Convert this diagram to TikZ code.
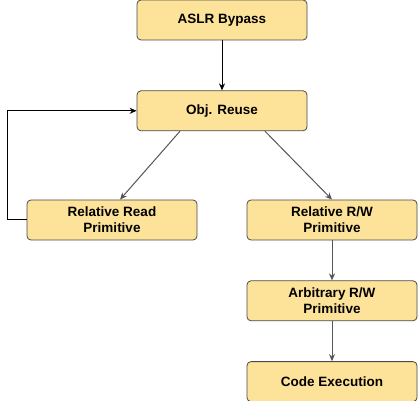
\documentclass[tikz,border=0pt]{standalone}
\usepackage{fontspec}
\setmainfont{Liberation Sans}
\usepackage{xcolor}
\usepackage{tikz}
\usetikzlibrary{positioning}
\usetikzlibrary{shapes.geometric, arrows.meta}
\definecolor{boxfill}{HTML}{FDE399}
\definecolor{boxline}{HTML}{4A4A4A}
\definecolor{edgegray}{HTML}{555555}
\tikzstyle{arrow} = [line width=1pt,-{Stealth[length=7pt,width=6pt]}]
\tikzstyle{stage} = [draw=boxline,line width=0.8pt,fill=boxfill,rounded corners=4pt,minimum width=170pt,minimum height=40pt,align=center,font=\fontsize{13.5}{16}\selectfont\bfseries,inner sep=0pt]

\begin{document}
\begin{tikzpicture}[x=1pt,y=-1pt]
	\useasboundingbox (0,0) rectangle (418,401);

	%Nodes
	\node (rect) [stage] at (222,20) (aslr) {ASLR Bypass};
	\node (rect) [stage, below=50pt of aslr] (reuse) {Obj. Reuse};
	\node (rect) [stage] at (112,220) (relread) {Relative Read\\Primitive};
	\node (rect) [stage] at (332,220) (relrw) {Relative R/W\\Primitive};
	\node (rect) [stage, below=40pt of relrw] (arbrw) {Arbitrary R/W\\Primitive};
	\node (rect) [stage, below=40pt of arbrw] (codeexec) {Code Execution};
	\coordinate (loopcorner) at (7,220);

	%Lines
	\draw[arrow] (aslr.south) -- (reuse.north);
	\draw[arrow,edgegray] ([xshift=-42pt]reuse.south) -- ([xshift=8pt]relread.north);
	\draw[arrow,edgegray] ([xshift=43pt]reuse.south) -- (relrw.north);
	\draw[arrow,edgegray] (relrw.south) -- (arbrw.north);
	\draw[arrow,edgegray] (arbrw.south) -- (codeexec.north);
	\draw[arrow] (relread.west) -- (loopcorner) |- (reuse.west);

\end{tikzpicture}
\end{document}
